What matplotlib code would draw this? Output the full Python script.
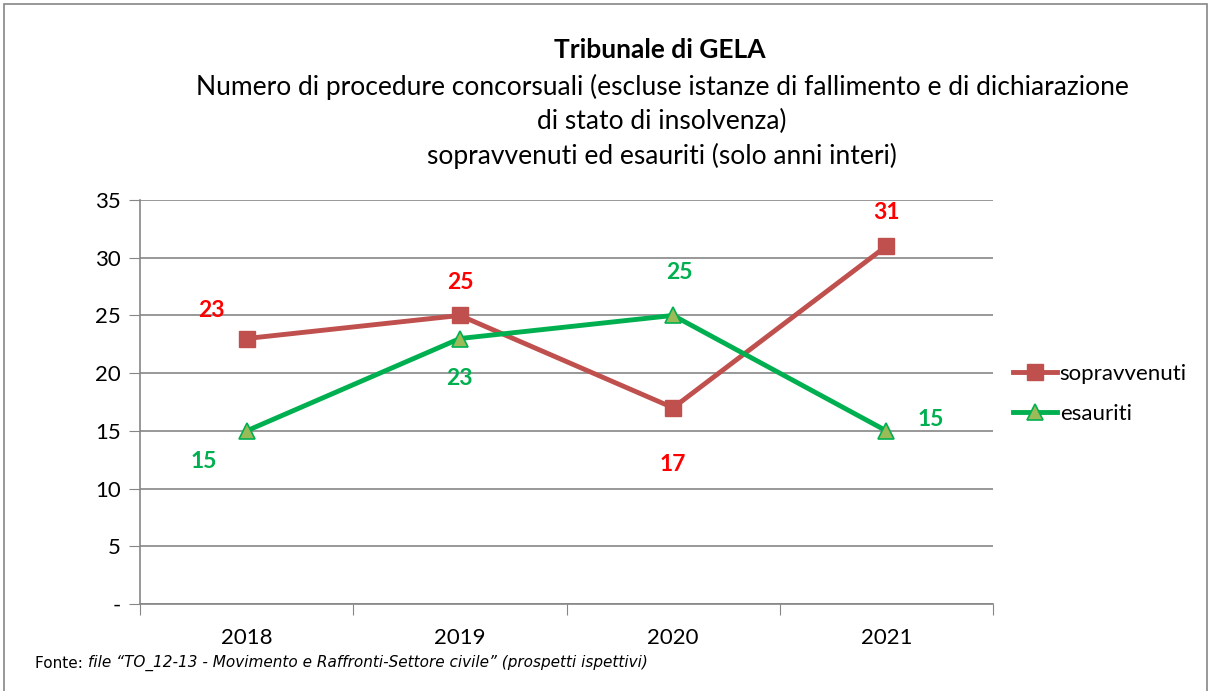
import matplotlib
matplotlib.use('Agg')
import matplotlib.pyplot as plt
from matplotlib.patches import Rectangle

years = ['2018', '2019', '2020', '2021']
sopravvenuti = [23, 25, 17, 31]
esauriti = [15, 23, 25, 15]
yticks = [0, 5, 10, 15, 20, 25, 30, 35]
ytick_labels = ['-', '5', '10', '15', '20', '25', '30', '35']

# label offsets in pixels (dx, dy)
off_sop = [(-35, 28), (0, 33), (0, -57), (0, 34)]
off_esa = [(-43, -31), (0, -40), (6, 43), (44, 11)]

plt.rcParams['font.family'] = ['Lato', 'DejaVu Sans']

fig = plt.figure(figsize=(12.11, 6.91), dpi=100)
ax = fig.add_axes([140/1211, 1-604/691, 853/1211, 404/691])

x = [i + 0.5 for i in range(len(years))]
red = '#C0504D'
green = '#00B050'
ax.plot(x, sopravvenuti, color=red, lw=3.5, marker='s', ms=12,
        mfc=red, mec=red, label='sopravvenuti', zorder=3)
ax.plot(x, esauriti, color=green, lw=3.5, marker='^', ms=12,
        mfc='#9BBB59', mec=green, mew=1.2, label='esauriti', zorder=3)

for xi, v, o in zip(x, sopravvenuti, off_sop):
    ax.annotate(str(v), (xi, v), xytext=o, textcoords='offset pixels',
                ha='center', va='center', color='red', fontsize=16.5, fontweight='bold')
for xi, v, o in zip(x, esauriti, off_esa):
    ax.annotate(str(v), (xi, v), xytext=o, textcoords='offset pixels',
                ha='center', va='center', color='#00B050', fontsize=16.5, fontweight='bold')

ax.set_xlim(0, 4)
ax.set_ylim(0, 35)
ax.set_yticks(yticks)
ax.set_yticklabels(ytick_labels, fontsize=16)
ax.set_xticks([0, 1, 2, 3, 4])
ax.set_xticklabels([])
ax.set_xticks(x, minor=True)
ax.set_xticklabels(years, minor=True, fontsize=16)
ax.tick_params(axis='x', which='minor', length=0, pad=17)
ax.tick_params(axis='x', which='major', length=8, color='#868686', direction='out')
ax.tick_params(axis='y', length=8, color='#868686', direction='out', pad=6)
ax.grid(axis='y', color='#868686', lw=1.2)
ax.set_axisbelow(True)
for s in ['top', 'right']:
    ax.spines[s].set_visible(False)
for s in ['left', 'bottom']:
    ax.spines[s].set_color('#868686')
    ax.spines[s].set_linewidth(1.2)

ax.legend(loc='center left', bbox_to_anchor=(1.0, 0.52), frameon=False,
          fontsize=16, handlelength=2.0, handletextpad=0.1, labelspacing=0.9)

fig.text(660/1211, 1-50/691, 'Tribunale di GELA', ha='center', va='center',
         fontsize=19, fontweight='bold')
fig.text(662/1211, 1-87/691, 'Numero di procedure concorsuali (escluse istanze di fallimento e di dichiarazione',
         ha='center', va='center', fontsize=19)
fig.text(662/1211, 1-121/691, 'di stato di insolvenza)', ha='center', va='center', fontsize=19)
fig.text(662/1211, 1-156/691, 'sopravvenuti ed esauriti (solo anni interi)', ha='center', va='center', fontsize=19)

t1 = fig.text(35/1211, 1-663/691, 'Fonte: ', ha='left', va='center', fontsize=11,
              family='DejaVu Sans')
fig.canvas.draw()
bb = t1.get_window_extent()
fig.text(bb.x1/1211, 1-663/691,
         'file \u201cTO_12-13 - Movimento e Raffronti-Settore civile\u201d (prospetti ispettivi)',
         ha='left', va='center', fontsize=11, style='italic', family='DejaVu Sans')

fig.patches.append(Rectangle((4/1211, -0.01), 1203/1211, 1-4/691+0.01, transform=fig.transFigure,
                             fill=False, edgecolor='#868686', lw=1.2))

fig.savefig('out.png', dpi=100)
